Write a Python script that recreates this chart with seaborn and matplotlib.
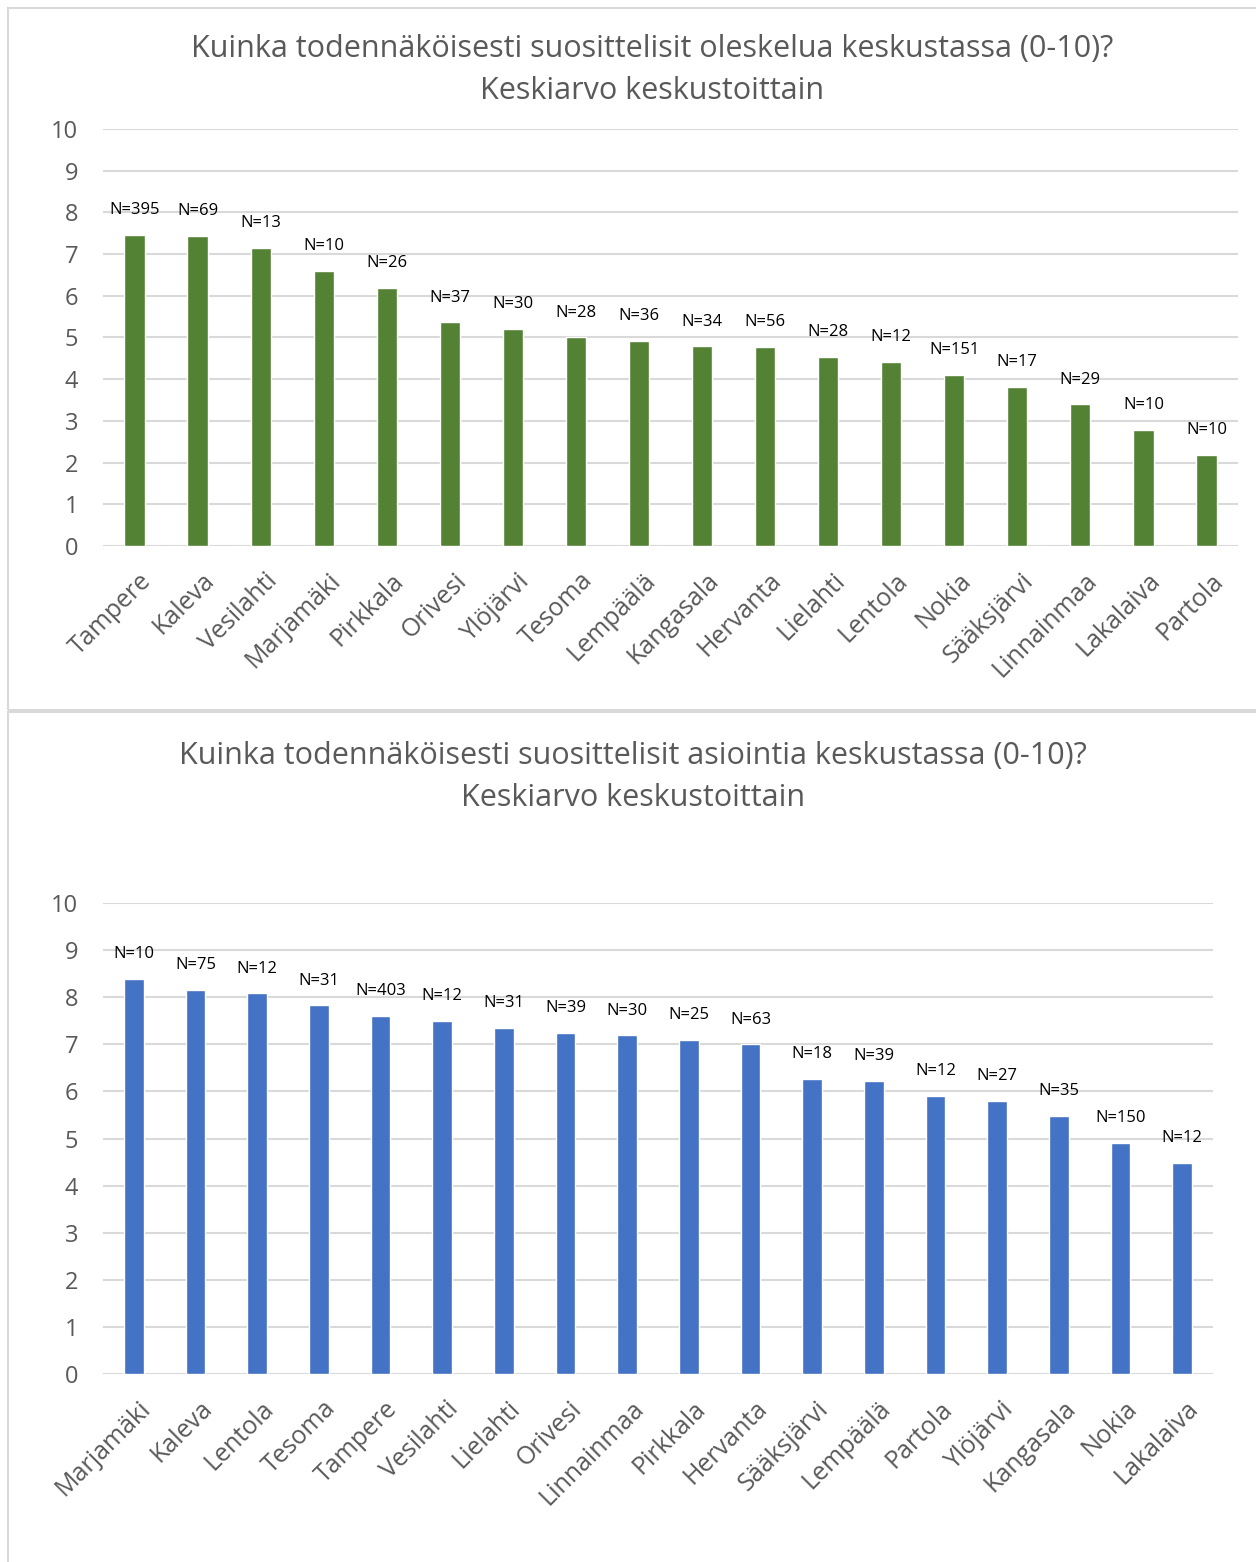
import matplotlib
matplotlib.use("Agg")
import matplotlib.pyplot as plt
import matplotlib.transforms as mtransforms
import seaborn as sns
import pandas as pd
from matplotlib.patches import Rectangle

# data: top chart (oleskelu)
cats_top = ["Tampere", "Kaleva", "Vesilahti", "Marjamäki", "Pirkkala", "Orivesi",
            "Ylöjärvi", "Tesoma", "Lempäälä", "Kangasala", "Hervanta", "Lielahti",
            "Lentola", "Nokia", "Sääksjärvi", "Linnainmaa", "Lakalaiva", "Partola"]
vals_top = [7.47, 7.44, 7.15, 6.60, 6.19, 5.36, 5.20, 5.00, 4.92, 4.79, 4.77, 4.53,
            4.41, 4.11, 3.82, 3.40, 2.78, 2.19]
n_top = [395, 69, 13, 10, 26, 37, 30, 28, 36, 34, 56, 28, 12, 151, 17, 29, 10, 10]

# data: bottom chart (asiointi)
cats_bot = ["Marjamäki", "Kaleva", "Lentola", "Tesoma", "Tampere", "Vesilahti",
            "Lielahti", "Orivesi", "Linnainmaa", "Pirkkala", "Hervanta", "Sääksjärvi",
            "Lempäälä", "Partola", "Ylöjärvi", "Kangasala", "Nokia", "Lakalaiva"]
vals_bot = [8.39, 8.16, 8.08, 7.83, 7.60, 7.50, 7.35, 7.25, 7.19, 7.10, 7.00, 6.27,
            6.23, 5.90, 5.80, 5.48, 4.91, 4.49]
n_bot = [10, 75, 12, 31, 403, 12, 31, 39, 30, 25, 63, 18, 39, 12, 27, 35, 150, 12]

title_top = "Kuinka todennäköisesti suosittelisit oleskelua keskustassa (0-10)?\nKeskiarvo keskustoittain"
title_bot = "Kuinka todennäköisesti suosittelisit asiointia keskustassa (0-10)?\nKeskiarvo keskustoittain"

sns.set_style("white")
plt.rcParams['font.family'] = ['Open Sans', 'DejaVu Sans']

W, H = 1256, 1562
fig = plt.figure(figsize=(W / 100, H / 100), dpi=100)

# panel borders
for (x0, y0, x1, y1) in [(8, 8, 1262, 710), (8, 712, 1262, 1570)]:
    fig.patches.append(Rectangle((x0 / W, 1 - y1 / H), (x1 - x0) / W, (y1 - y0) / H,
                                 transform=fig.transFigure, fill=False,
                                 edgecolor="#d9d9d9", linewidth=1.5))


def draw(rect, cats, vals, ns, color, title, title_xy):
    ax = fig.add_axes(rect)
    df = pd.DataFrame({"cat": cats, "val": vals})
    sns.barplot(data=df, x="cat", y="val", color=color, width=0.32,
                saturation=1, ax=ax)
    ax.bar_label(ax.containers[0], labels=[f"N={n}" for n in ns],
                 padding=12, fontsize=12, color="black")
    ax.set_ylim(0, 10)
    ax.set_xlim(-0.5, len(cats) - 0.5)
    ax.set_yticks(range(0, 11))
    ax.yaxis.grid(True, color="#d9d9d9", linewidth=1.5)
    ax.set_axisbelow(True)
    for s in ax.spines.values():
        s.set_visible(False)
    ax.tick_params(axis="both", length=0, labelcolor="#595959")
    ax.tick_params(axis="y", pad=18, labelsize=17)
    ax.tick_params(axis="x", pad=16, labelsize=18)
    ax.set_xlabel("")
    ax.set_ylabel("")
    shift = mtransforms.ScaledTranslation(4 / 100, 0, fig.dpi_scale_trans)
    for lab in ax.get_xticklabels():
        lab.set_rotation(45)
        lab.set_ha("right")
        lab.set_rotation_mode("anchor")
        lab.set_transform(lab.get_transform() + shift)
    fig.text(title_xy[0] / W, 1 - title_xy[1] / H, title, ha="center", va="center",
             fontsize=22, color="#595959", linespacing=1.5)
    return ax


draw([103 / W, 1 - 546 / H, (1238 - 103) / W, (546 - 129) / H],
     cats_top, vals_top, n_top, "#548235", title_top, (652, 70))
draw([103 / W, 1 - 1374 / H, (1213 - 103) / W, (1374 - 903) / H],
     cats_bot, vals_bot, n_bot, "#4472c4", title_bot, (633, 777))

fig.savefig("out.png", dpi=100)
